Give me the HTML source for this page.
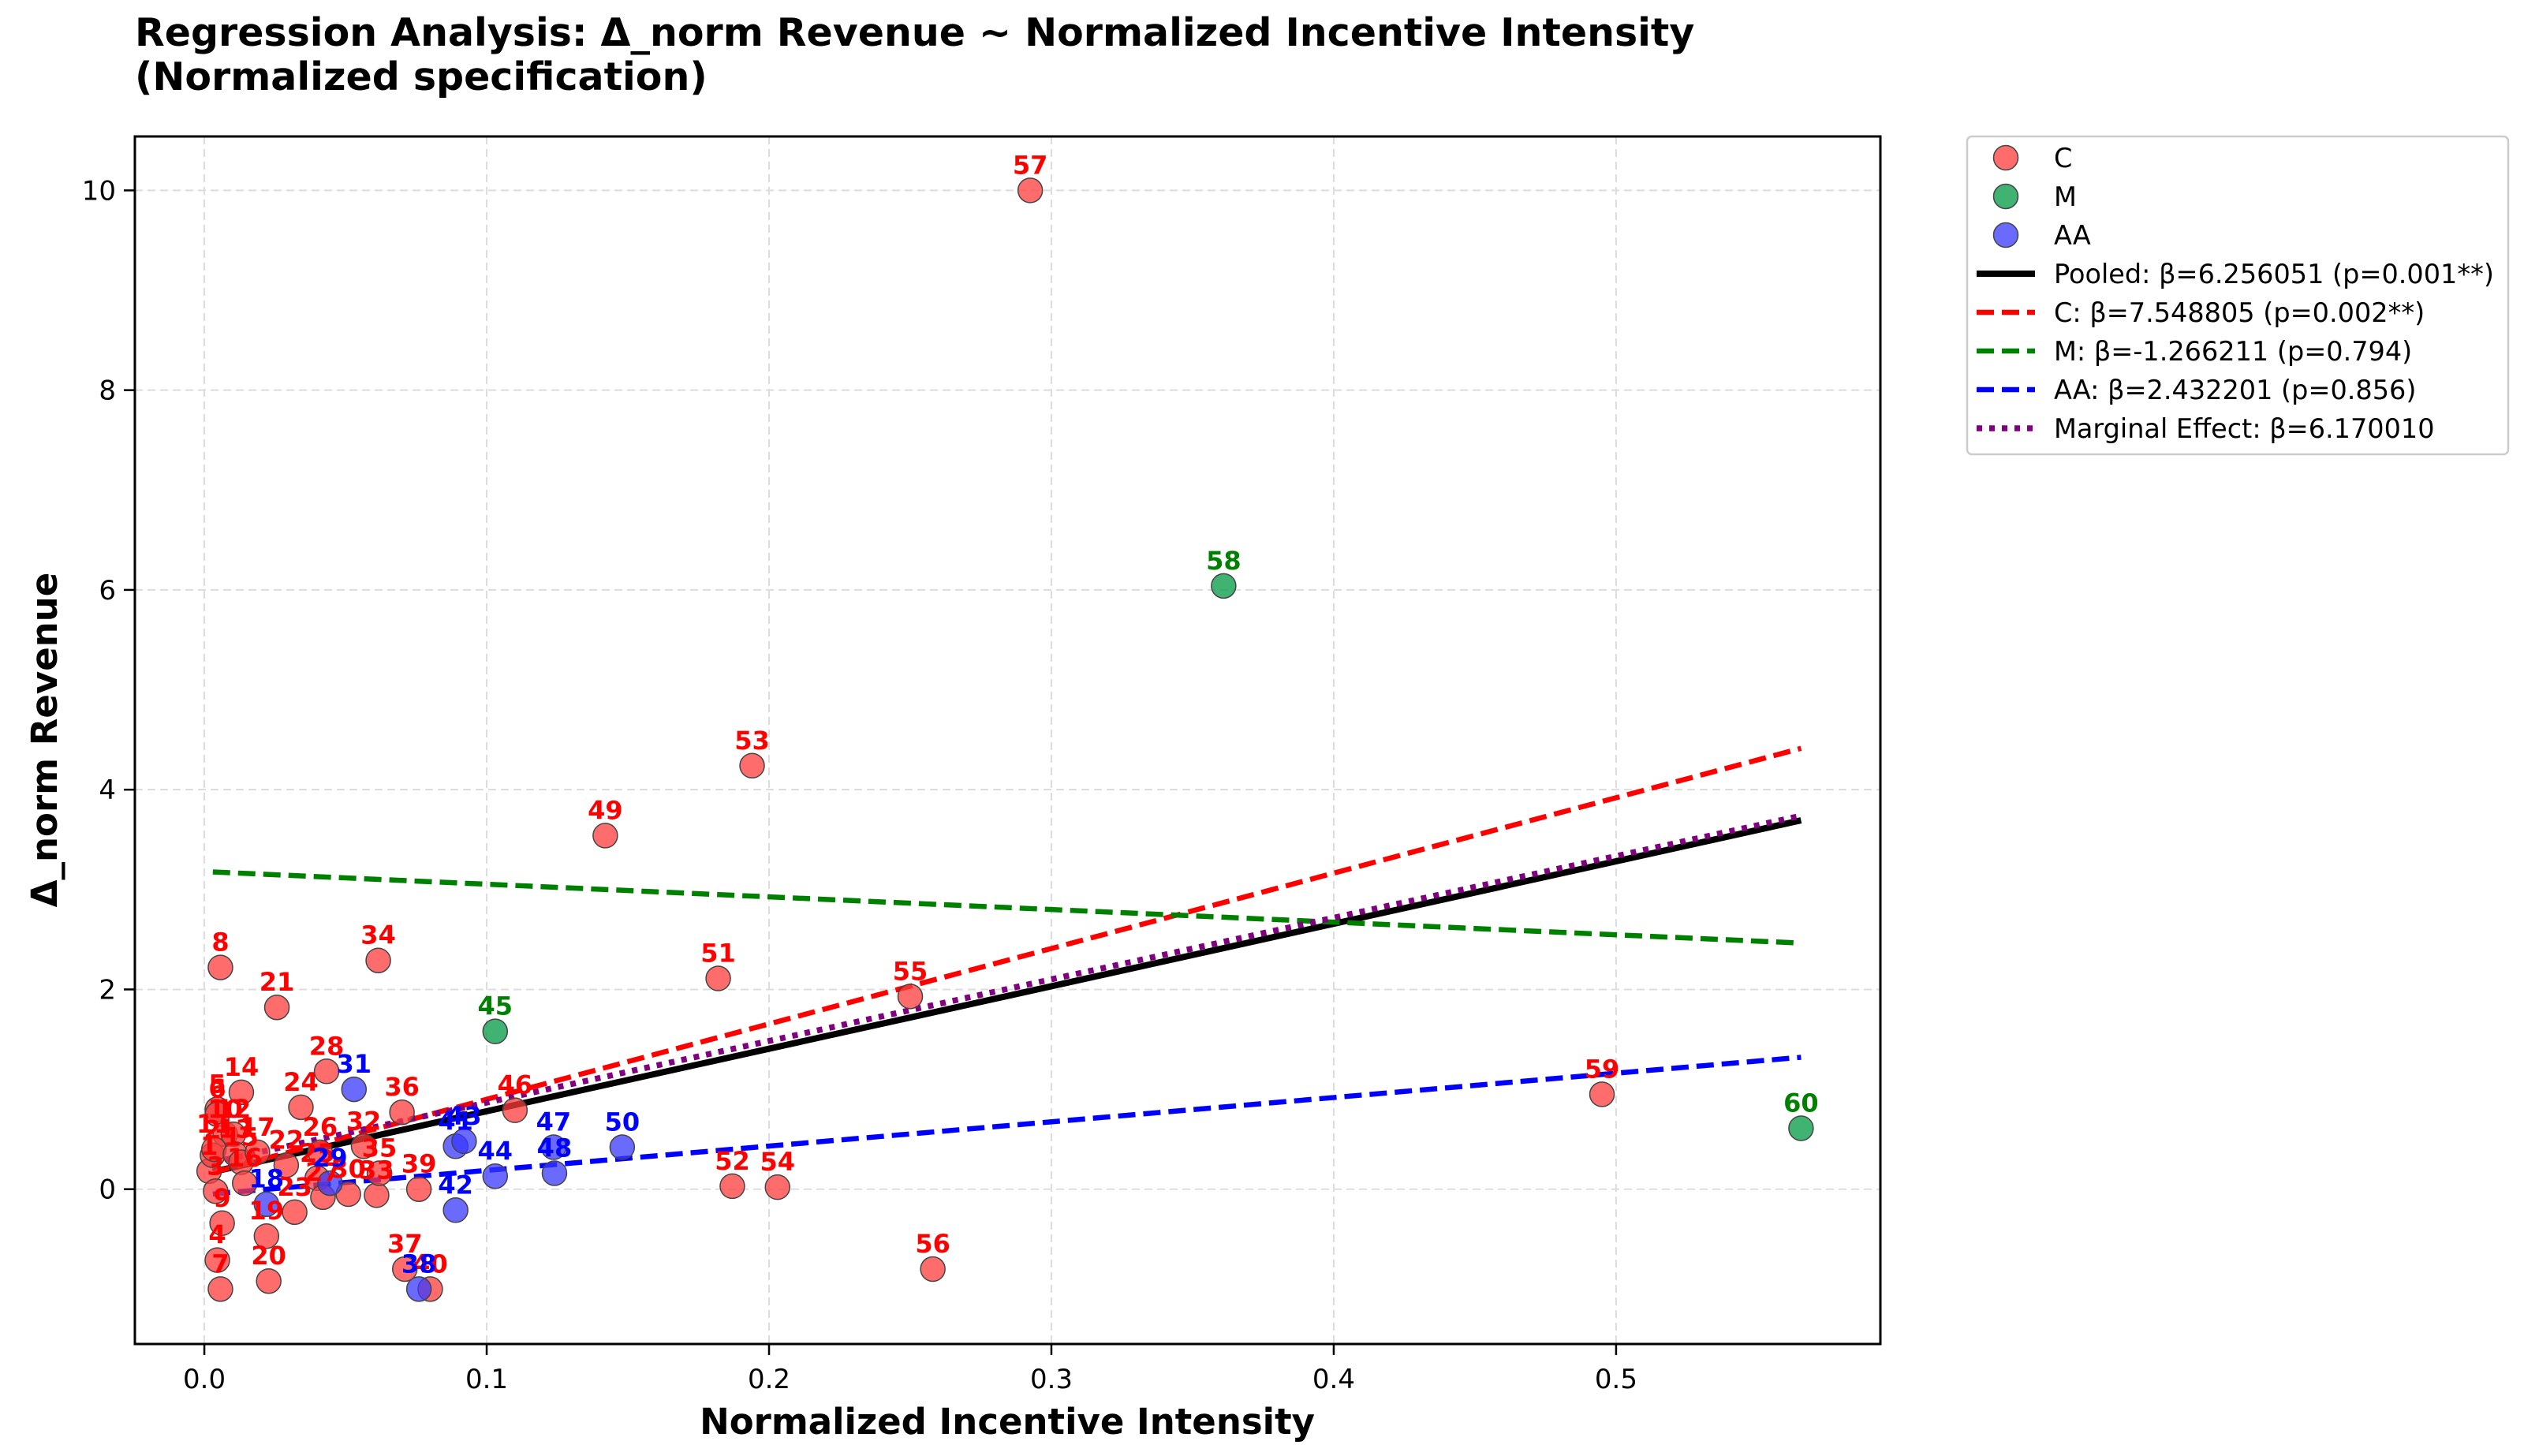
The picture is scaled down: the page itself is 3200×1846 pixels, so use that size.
<!DOCTYPE html>
<html><head><meta charset="utf-8"><style>
html,body{margin:0;padding:0;background:#fff;}
svg{display:block;font-family:"DejaVu Sans","Liberation Sans",sans-serif;}
</style></head><body>
<svg id="chart" width="3200" height="1846" viewBox="0 0 3200 1846" xmlns="http://www.w3.org/2000/svg">
<text x="171" y="58" font-size="49" font-weight="bold" fill="#000">Regression Analysis: Δ_norm Revenue ~ Normalized Incentive Intensity</text>
<text x="171" y="114" font-size="49" font-weight="bold" fill="#000">(Normalized specification)</text>
<g id="grid"></g>
<g id="lines"></g>
<g id="points"></g>
<g id="labels"></g>
<rect x="171" y="173" width="2213" height="1531" fill="none" stroke="#000" stroke-width="3"/>
<g id="axes"></g>
<text x="1277" y="1818" font-size="45" font-weight="bold" text-anchor="middle">Normalized Incentive Intensity</text>
<text transform="translate(72,938) rotate(-90)" font-size="45" font-weight="bold" text-anchor="middle">Δ_norm Revenue</text>
<g id="legend"></g>
</svg>
<script>
const xTicks=[0.0,0.1,0.2,0.3,0.4,0.5];
const xTickLabels=["0.0","0.1","0.2","0.3","0.4","0.5"];
const yTicks=[0,2,4,6,8,10];
const yTickLabels=["0","2","4","6","8","10"];
const cIds=[1,2,3,4,5,6,7,8,9,10,11,12,13,14,15,16,17,19,20,21,22,23,24,25,26,27,28,30,32,33,34,35,36,37,39,40,46,49,51,52,53,54,55,56,57,59];
const cX=[0.0017,0.0029,0.004,0.0046,0.0046,0.0046,0.0057,0.0057,0.0063,0.0074,0.0034,0.0103,0.011,0.0131,0.013,0.0143,0.0188,0.022,0.0228,0.0257,0.029,0.032,0.0342,0.040,0.041,0.042,0.0433,0.051,0.0564,0.061,0.0616,0.062,0.070,0.071,0.076,0.080,0.110,0.142,0.182,0.187,0.194,0.203,0.250,0.258,0.2925,0.495];
const cY=[0.18,0.34,-0.02,-0.71,0.80,0.75,-1.0,2.22,-0.34,0.55,0.40,0.55,0.35,0.97,0.27,0.06,0.37,-0.47,-0.92,1.82,0.24,-0.23,0.82,0.11,0.37,-0.08,1.18,-0.05,0.43,-0.06,2.29,0.16,0.77,-0.80,0.0,-1.0,0.79,3.54,2.11,0.03,4.24,0.02,1.93,-0.80,10.0,0.95];
const mIds=[45,58,60];
const mX=[0.103,0.361,0.5655];
const mY=[1.58,6.04,0.61];
const aIds=[18,29,31,38,41,42,43,44,47,48,50];
const aX=[0.022,0.0445,0.053,0.076,0.089,0.089,0.092,0.103,0.1237,0.124,0.148];
const aY=[-0.15,0.06,1.0,-1.0,0.43,-0.21,0.48,0.13,0.42,0.16,0.42];
const fitNames=["Pooled","C","M","AA","Marginal"];
const fitSlopes=[6.256051,7.548805,-1.266211,2.432201,6.170010];
const fitIntercepts=[0.155,0.145,3.18,-0.055,0.25];
const fitRange=[0.003,0.5655];
const legendTexts=["C","M","AA","Pooled: β=6.256051 (p=0.001**)","C: β=7.548805 (p=0.002**)","M: β=-1.266211 (p=0.794)","AA: β=2.432201 (p=0.856)","Marginal Effect: β=6.170010"];

const NS="http://www.w3.org/2000/svg";
const X0=171,X1=2384,Y0=173,Y1=1704;
const xMin=-0.0246,xMax=0.5936,yMin=-1.55,yMax=10.54;
function sx(v){return X0+(v-xMin)/(xMax-xMin)*(X1-X0);}
function sy(v){return Y1-(v-yMin)/(yMax-yMin)*(Y1-Y0);}
function mk(tag,attrs,parent){const e=document.createElementNS(NS,tag);for(const k in attrs)e.setAttribute(k,attrs[k]);parent.appendChild(e);return e;}
const grid=document.getElementById('grid'),axes=document.getElementById('axes');
xTicks.forEach((t,i)=>{
 const g=mk('line',{x1:sx(t),x2:sx(t),y1:Y0,y2:Y1,stroke:'#ddd','stroke-width':2,'stroke-dasharray':'10,6'},grid);
 
 
 const tk=mk('line',{x1:sx(t),x2:sx(t),y1:Y1,y2:Y1+14,stroke:'#000','stroke-width':2.5},axes);
 
 
 const tl=mk('text',{x:sx(t),y:Y1+56,'font-size':34,'text-anchor':'middle'},axes);tl.textContent=xTickLabels[i];
 
 
});
yTicks.forEach((t,i)=>{
 const g=mk('line',{x1:X0,x2:X1,y1:sy(t),y2:sy(t),stroke:'#ddd','stroke-width':2,'stroke-dasharray':'10,6'},grid);
 
 
 const tk=mk('line',{x1:X0-14,x2:X0,y1:sy(t),y2:sy(t),stroke:'#000','stroke-width':2.5},axes);
 
 
 const tl=mk('text',{x:X0-24,y:sy(t)+12,'font-size':34,'text-anchor':'end'},axes);tl.textContent=yTickLabels[i];
 
 
});
const styles=[{c:'#000',w:8,d:''},{c:'#ff0000',w:6.5,d:'22,10'},{c:'#008000',w:6.5,d:'22,10'},{c:'#0000ff',w:6.5,d:'22,10'},{c:'#800080',w:7.5,d:'7,9'}];
const lines=document.getElementById('lines');
fitNames.forEach((n,i)=>{
 const a=fitRange[0],b=fitRange[1];
 const l=mk('line',{x1:sx(a),y1:sy(fitIntercepts[i]+fitSlopes[i]*a),x2:sx(b),y2:sy(fitIntercepts[i]+fitSlopes[i]*b),stroke:styles[i].c,'stroke-width':styles[i].w,'stroke-dasharray':styles[i].d},lines);
 
 
});
const pts=document.getElementById('points'),lbs=document.getElementById('labels');
function drawGroup(ids,xs,ys,fill,lab,name){
 ids.forEach((id,i)=>{
  const c=mk('circle',{cx:sx(xs[i]),cy:sy(ys[i]),r:15.5,fill:fill,'fill-opacity':0.75,stroke:'#444','stroke-width':1.5},pts);
  
  
  const t=mk('text',{x:sx(xs[i]),y:sy(ys[i])-21,'font-size':32,'font-weight':'bold','text-anchor':'middle',fill:lab},lbs);
  t.textContent=id;
  
  
 });
}
drawGroup(cIds,cX,cY,'#ff3b3b','#ff0000','c');
drawGroup(mIds,mX,mY,'#009944','#008000','m');
drawGroup(aIds,aX,aY,'#3838ff','#0000ff','aa');
const lg=document.getElementById('legend');
const fr=mk('rect',{x:2494,y:173,width:686,height:403,rx:6,fill:'#fff',stroke:'#ccc','stroke-width':2.5},lg);


const mcol=['#ff3b3b','#009944','#3838ff'];
legendTexts.forEach((txt,i)=>{
 const y=200+i*49;
 if(i<3){
  const c=mk('circle',{cx:2543,cy:y,r:15.5,fill:mcol[i],'fill-opacity':0.75,stroke:'#444','stroke-width':1.5},lg);
  
  
 }else{
  const s=styles[i-3];
  const l=mk('line',{x1:2506,x2:2580,y1:y,y2:y,stroke:s.c,'stroke-width':s.w,'stroke-dasharray':s.d},lg);
  
  
 }
 const t=mk('text',{x:2604,y:y+12,'font-size':33.5},lg);t.textContent=txt;
 
 
});
</script>
</body></html>
